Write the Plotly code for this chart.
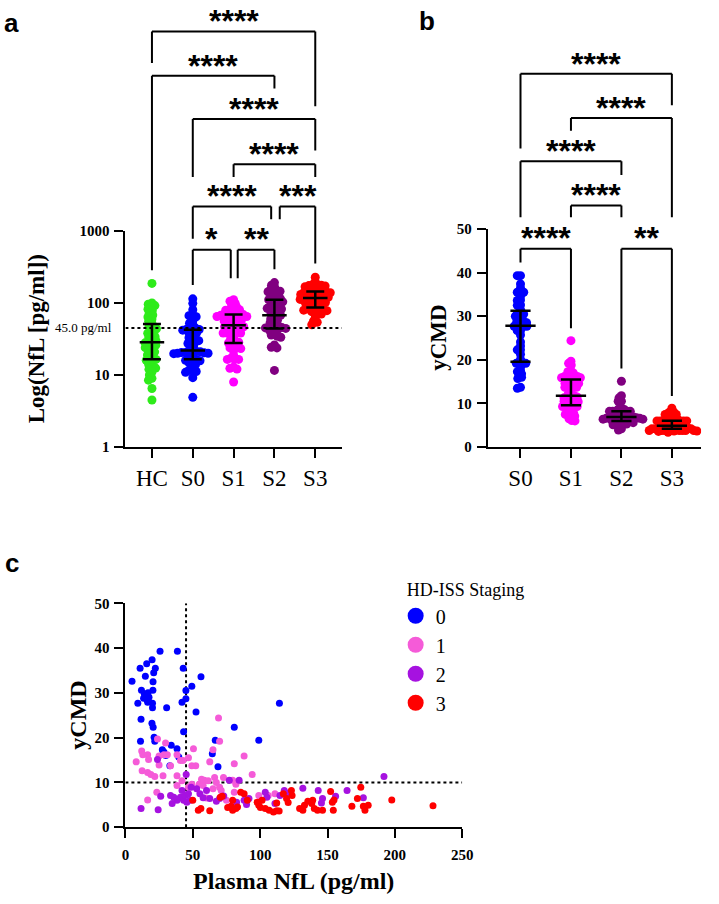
import numpy as np
import plotly.graph_objects as go

# ---------------- DATA ----------------
HC_NFL = [187, 100, 96, 92, 88, 82, 78, 72, 68, 64, 60, 56, 52, 48, 46, 44, 42, 40, 38, 36,
          34, 33, 31, 30, 29, 28, 27, 26, 25, 24, 23, 22, 21, 20, 19, 18, 17, 16.5, 16, 15,
          14, 13, 12.5, 12, 11, 10, 9, 8.5, 6.5, 4.5]

S0_NFL = [4.9, 10.9, 15.8, 19.8, 14.8, 22.2, 21.0, 20.5, 25.7, 38.6, 42.9, 44.9, 49.3, 56.1, 11.9,
          20.4, 15.3, 17.5, 16.0, 14.0, 16.8, 9.2, 16.5, 20.1, 20.1, 30.6, 11.6, 19.7, 20.6, 11.2,
          21.3, 21.8, 27.4, 28.6, 34.0, 38.3, 39.6, 33.0, 42.0, 44.9, 43.2, 52.4, 64.5, 66.7, 68.7,
          80.8, 99.0, 114.3, 30.0, 13.5]
S0_YCMD = [32.6, 35.5, 36.5, 37.4, 33.7, 35.5, 34.5, 32.5, 39.3, 39.3, 35.5, 30.5, 31.5, 33.6, 30.6,
           30.6, 29.4, 29.0, 28.5, 29.8, 30.0, 27.7, 27.9, 27.7, 26.7, 26.7, 24.1, 23.2, 22.3, 19.2,
           20.1, 19.2, 17.3, 16.8, 18.3, 17.5, 15.7, 13.7, 27.9, 28.7, 21.3, 25.7, 16.4, 19.4, 13.5,
           22.3, 19.4, 27.7, 16.0, 28.8]

S1_NFL = [8.0, 12.1, 12.9, 16.5, 17.2, 23.8, 29.8, 28.6, 31.1, 25.0, 12.4, 16.5, 18.9, 21.8, 27.9,
          25.0, 33.5, 16.5, 23.3, 38.3, 40.8, 42.7, 38.3, 38.3, 42.0, 46.8, 49.3, 50.5, 52.2, 49.3,
          46.8, 54.8, 56.5, 58.5, 61.4, 62.6, 65.0, 69.1, 69.9, 66.2, 67.5, 72.8, 69.9, 71.1, 79.6,
          80.8, 82.0, 88.1, 94.1, 80.8, 65.0, 99.0, 106.0, 111.0, 57.7, 60.0, 75.0]
S1_YCMD = [14.6, 17.0, 16.2, 16.2, 15.1, 19.7, 18.8, 16.2, 16.2, 15.9, 12.6, 12.2, 11.8, 11.3, 11.5,
           13.9, 13.7, 6.1, 7.8, 16.2, 14.9, 14.9, 11.5, 9.3, 10.4, 15.5, 13.7, 17.5, 13.7, 9.6,
           8.9, 9.6, 10.7, 10.5, 10.4, 14.6, 17.3, 24.4, 19.2, 11.1, 10.0, 11.1, 8.9, 8.2, 10.5,
           14.2, 9.6, 15.9, 11.8, 7.8, 8.6, 7.1, 7.1, 7.5, 9.3, 6.5, 6.0]

S2_NFL = [23.8, 11.6, 24.3, 26.2, 45.1, 42.0, 40.8, 38.3, 35.9, 43.2, 45.6, 44.4, 48.0, 33.5, 34.7,
          46.8, 52.9, 55.3, 57.7, 60.2, 62.6, 67.5, 69.9, 77.1, 84.4, 88.1, 89.9, 91.7, 82.5, 103.8,
          105.0, 111.0, 114.7, 117.9, 120.8, 131.7, 143.1, 146.3, 145.5, 156.0, 164.5, 176.6, 191.9,
          48.8, 73.0]
S2_YCMD = [15.1, 4.2, 3.9, 6.9, 11.8, 8.2, 6.7, 6.0, 6.7, 6.0, 5.6, 7.1, 6.0, 7.1, 5.3,
           7.5, 8.6, 7.5, 6.6, 8.2, 6.4, 5.8, 6.4, 10.5, 10.5, 6.0, 5.1, 6.4, 5.6, 7.8,
           6.7, 5.3, 7.1, 8.2, 7.6, 8.7, 8.2, 6.4, 5.4, 6.9, 8.2, 6.6, 11.3,
           8.9, 7.0]

S3_NFL = [50.0, 54.1, 56.0, 62.6, 70.4, 71.8, 75.9, 78.4, 79.6, 82.0, 83.2, 85.6, 88.1, 90.5, 79.6,
          97.8, 99.0, 100.2, 101.4, 103.8, 106.7, 109.9, 112.3, 114.1, 112.3, 117.2, 119.6, 120.8,
          123.2, 123.7, 129.3, 131.7, 132.9, 135.4, 138.3, 139.0, 140.2, 142.6, 146.3, 152.3, 153.6,
          154.8, 154.3, 168.1, 172.2, 174.7, 176.6, 177.8, 180.2, 197.7, 228.3]
S3_YCMD = [6.0, 3.8, 4.2, 3.7, 6.7, 6.9, 4.4, 4.7, 6.0, 4.2, 4.5, 7.8, 7.5, 6.0, 3.8,
           5.6, 4.9, 4.4, 6.0, 4.2, 3.8, 3.4, 3.7, 3.6, 5.4, 7.5, 6.4, 5.5,
           8.2, 7.1, 4.2, 3.8, 4.9, 5.8, 5.3, 6.0, 4.2, 3.8, 3.8, 8.0, 5.6,
           6.1, 3.8, 4.7, 6.4, 8.9, 4.7, 3.8, 4.9, 6.1, 4.8]

GROUPS_A = ["HC", "S0", "S1", "S2", "S3"]
GROUPS_B = ["S0", "S1", "S2", "S3"]
STAGES = ["0", "1", "2", "3"]
NFL_CUTOFF = 45.0
YCMD_CUTOFF = 10
YTICKS_A = [1, 10, 100, 1000]
YTICKS_B = [0, 10, 20, 30, 40, 50]
XTICKS_C = [0, 50, 100, 150, 200, 250]

# significance comparisons (group i, group j, label)
SIG_A = [(0, 4, "****"), (0, 3, "****"), (1, 4, "****"), (2, 4, "****"),
         (1, 3, "****"), (3, 4, "***"), (1, 2, "*"), (2, 3, "**")]
SIG_B = [(0, 3, "****"), (1, 3, "****"), (0, 2, "****"), (1, 2, "****"),
         (0, 1, "****"), (2, 3, "**")]

# ---------------- STYLE / LAYOUT GEOMETRY (pixels) ----------------
W, H = 719, 904
SERIF = "Liberation Serif, Times New Roman, serif"
SANS = "Liberation Sans, Arial, sans-serif"
COL_A = ["#2EEB1A", "#0000FF", "#FF00FF", "#800080", "#FF0000"]
COL_C = ["#0000FF", "#F55BD8", "#A612E0", "#FF0000"]


def fx(px):
    return px / W


def fy(py):
    return 1 - py / H


# panel geometry
A_X0, A_X1, A_Y0, A_Y1 = 124, 345, 227, 447
A_XR = [-0.65, 4.65]
B_X0, B_X1, B_Y0, B_Y1 = 494, 712, 225, 447
B_XR = [-0.65, 3.58]
C_X0, C_X1, C_Y0, C_Y1 = 124, 468, 606, 834

A_PPU = (A_X1 - A_X0) / (A_XR[1] - A_XR[0])
B_PPU = (B_X1 - B_X0) / (B_XR[1] - B_XR[0])
A_PPDEC = (A_Y1 - A_Y0) / 3.0
B_PPV = (B_Y1 - B_Y0) / 50.0


def swarm(ypx, d):
    ypx = np.asarray(ypx, float)
    n = len(ypx)
    xs = np.zeros(n)
    placed = []
    for i in np.argsort(ypx):
        y = ypx[i]
        near = [(xj, yj) for (xj, yj) in placed if abs(yj - y) < d]
        cands = [0.0]
        for xj, yj in near:
            dx = np.sqrt(d * d - (yj - y) ** 2)
            cands += [xj + dx, xj - dx]
        cands.sort(key=lambda c: (abs(c), c))
        for c in cands:
            if all((c - xj) ** 2 + (y - yj) ** 2 >= d * d - 1e-6 for xj, yj in near):
                xs[i] = c
                break
        placed.append((xs[i], y))
    return xs


fig = go.Figure()

# ---------------- PANEL A ----------------
groups_a = [HC_NFL, S0_NFL, S1_NFL, S2_NFL, S3_NFL]
for k, (name, vals) in enumerate(zip(GROUPS_A, groups_a)):
    ypx = -np.log10(vals) * A_PPDEC
    off = swarm(ypx, 4.0) / A_PPU
    fig.add_trace(go.Scatter(x=k + off, y=vals, mode="markers", xaxis="x", yaxis="y",
                             marker=dict(size=9, color=COL_A[k]), showlegend=False, name=name))
ex, ey = [], []
for k, vals in enumerate(groups_a):
    q1, med, q3 = np.percentile(vals, [25, 50, 75])
    ex += [k, k, None, k - 0.3, k + 0.3, None, k - 0.22, k + 0.22, None, k - 0.22, k + 0.22, None]
    ey += [q1, q3, None, med, med, None, q1, q1, None, q3, q3, None]
fig.add_trace(go.Scatter(x=ex, y=ey, mode="lines", xaxis="x", yaxis="y",
                         line=dict(color="black", width=2.5), showlegend=False, hoverinfo="skip"))
fig.add_trace(go.Scatter(x=A_XR, y=[NFL_CUTOFF, NFL_CUTOFF], mode="lines", xaxis="x", yaxis="y",
                         line=dict(color="black", width=2, dash="dot"), showlegend=False,
                         hoverinfo="skip"))

# ---------------- PANEL B ----------------
groups_b = [S0_YCMD, S1_YCMD, S2_YCMD, S3_YCMD]
for k, (name, vals) in enumerate(zip(GROUPS_B, groups_b)):
    ypx = -np.asarray(vals) * B_PPV
    off = swarm(ypx, 3.3) / B_PPU
    fig.add_trace(go.Scatter(x=k + off, y=vals, mode="markers", xaxis="x2", yaxis="y2",
                             marker=dict(size=9, color=COL_A[k + 1]), showlegend=False, name=name))
ex, ey = [], []
for k, vals in enumerate(groups_b):
    q1, med, q3 = np.percentile(vals, [25, 50, 75])
    ex += [k, k, None, k - 0.3, k + 0.3, None, k - 0.2, k + 0.2, None, k - 0.2, k + 0.2, None]
    ey += [q1, q3, None, med, med, None, q1, q1, None, q3, q3, None]
fig.add_trace(go.Scatter(x=ex, y=ey, mode="lines", xaxis="x2", yaxis="y2",
                         line=dict(color="black", width=2.5), showlegend=False, hoverinfo="skip"))

# ---------------- PANEL C ----------------
fig.add_trace(go.Scatter(x=[NFL_CUTOFF, NFL_CUTOFF], y=[0, 50], mode="lines", xaxis="x3", yaxis="y3",
                         line=dict(color="black", width=2, dash="dot"), showlegend=False,
                         hoverinfo="skip"))
fig.add_trace(go.Scatter(x=[0, 250], y=[YCMD_CUTOFF, YCMD_CUTOFF], mode="lines", xaxis="x3",
                         yaxis="y3", line=dict(color="black", width=2, dash="dot"),
                         showlegend=False, hoverinfo="skip"))
pairs = [(S0_NFL, S0_YCMD), (S1_NFL, S1_YCMD), (S2_NFL, S2_YCMD), (S3_NFL, S3_YCMD)]
for k, (xv, yv) in enumerate(pairs):
    fig.add_trace(go.Scatter(x=xv, y=yv, mode="markers", xaxis="x3", yaxis="y3",
                             marker=dict(size=7, color=COL_C[k]), showlegend=False,
                             name=STAGES[k]))
for k in range(4):
    fig.add_trace(go.Scatter(x=[None], y=[None], mode="markers", xaxis="x3", yaxis="y3",
                             marker=dict(size=16, color=COL_C[k]), name=STAGES[k],
                             showlegend=True))

# ---------------- BRACKETS ----------------
shapes = []
annotations = []


def bracket(xref, xa, xb, ybar, yla, ylb, label, size=32):
    line = dict(color="black", width=2)
    shapes.append(dict(type="line", xref=xref, yref="paper", x0=xa, x1=xb,
                       y0=fy(ybar), y1=fy(ybar), line=line))
    shapes.append(dict(type="line", xref=xref, yref="paper", x0=xa, x1=xa,
                       y0=fy(ybar), y1=fy(yla), line=line))
    shapes.append(dict(type="line", xref=xref, yref="paper", x0=xb, x1=xb,
                       y0=fy(ybar), y1=fy(ylb), line=line))
    annotations.append(dict(xref=xref, yref="paper", x=(xa + xb) / 2, y=fy(ybar + 10),
                            yanchor="bottom", text=label, showarrow=False,
                            font=dict(family=SANS, size=size, color="black", weight="bold")))


# panel a: (x-left, x-right, bar y px, left leg bottom px, right leg bottom px)
A_BR = [(0, 4, 24, 56, 100), (0, 3, 69, 267, 82), (1, 4, 113, 172, 145), (2, 4, 159, 172, 172),
        (1, 2.92, 202, 235, 215), (3.13, 4, 202, 215, 260), (1, 1.93, 246, 282, 275),
        (2.1, 3, 246, 275, 266)]
for (i, j, lab), (xa, xb, yb, yl, yr) in zip(SIG_A, A_BR):
    bracket("x", xa, xb, yb, yl, yr, lab)
B_BR = [(0, 3, 67, 143, 99), (1, 3, 112, 125, 213), (0, 2, 156, 213, 170), (1, 2, 201, 213, 213),
        (0, 1, 245, 259, 326), (2, 3, 245, 367, 395)]
for (i, j, lab), (xa, xb, yb, yl, yr) in zip(SIG_B, B_BR):
    bracket("x2", xa, xb, yb, yl, yr, lab)

# ---------------- TEXT ----------------
def txt(x, y, text, size, family=SERIF, bold=True, angle=0, xanchor="center"):
    annotations.append(dict(xref="paper", yref="paper", x=fx(x), y=fy(y), text=text,
                            showarrow=False, textangle=angle, xanchor=xanchor, yanchor="middle",
                            font=dict(family=family, size=size, color="black",
                                      weight="bold" if bold else "normal")))


txt(8, 15, "a", 26, SANS)
txt(432, 13, "b", 26, SANS)
txt(8, 565, "c", 26, SANS)
txt(33, 337, "Log(NfL [pg/ml])", 23, angle=-90)
txt(443, 336, "yCMD", 23, angle=-90)
txt(76, 720, "yCMD", 24, angle=-90)
txt(296, 889, "Plasma NfL (pg/ml)", 24)
txt(112, 325, "45.0 pg/ml", 13, bold=False, xanchor="right")

axis_common = dict(showline=True, linewidth=2, linecolor="black", ticks="outside", ticklen=9,
                   tickwidth=2, tickcolor="black", showgrid=False, zeroline=False,
                   fixedrange=True)
tick_bold = dict(family=SERIF, size=15, color="black", weight="bold")
tick_big = dict(family=SERIF, size=23, color="black")

fig.update_layout(
    width=W, height=H, margin=dict(l=0, r=0, t=0, b=0),
    paper_bgcolor="white", plot_bgcolor="white",
    xaxis=dict(axis_common, domain=[fx(A_X0), fx(A_X1)], anchor="y", range=A_XR,
               tickvals=list(range(5)), ticktext=GROUPS_A, tickfont=tick_big,
               ticklabelstandoff=0),
    yaxis=dict(axis_common, domain=[fy(A_Y1), fy(A_Y0)], anchor="x", type="log", range=[0, 3],
               tickvals=YTICKS_A, ticktext=[str(v) for v in YTICKS_A], tickfont=tick_bold,
               ticklabelstandoff=2),
    xaxis2=dict(axis_common, domain=[fx(B_X0), fx(B_X1)], anchor="y2", range=B_XR,
                tickvals=list(range(4)), ticktext=GROUPS_B, tickfont=tick_big,
                ticklabelstandoff=0),
    yaxis2=dict(axis_common, domain=[fy(B_Y1), fy(B_Y0)], anchor="x2", range=[0, 50],
                tickvals=YTICKS_B, tickfont=tick_bold, ticklabelstandoff=2),
    xaxis3=dict(axis_common, domain=[fx(C_X0), fx(C_X1)], anchor="y3", range=[0, 250],
                tickvals=XTICKS_C, tickfont=tick_bold, ticklabelstandoff=4),
    yaxis3=dict(axis_common, domain=[fy(C_Y1), fy(C_Y0)], anchor="x3", range=[0, 50],
                tickvals=YTICKS_B, tickfont=tick_bold, ticklabelstandoff=2),
    legend=dict(x=fx(400), y=fy(575), xanchor="left", yanchor="top",
                font=dict(family=SERIF, size=20, color="black"),
                title=dict(text="&nbsp;&nbsp;HD-ISS Staging",
                           font=dict(family=SERIF, size=18, color="black")),
                bgcolor="rgba(0,0,0,0)", itemsizing="trace", tracegroupgap=0),
    shapes=shapes, annotations=annotations, showlegend=True,
)

fig.write_html("out.html", config={"displayModeBar": False},
               post_script="document.body.style.margin='0';")
